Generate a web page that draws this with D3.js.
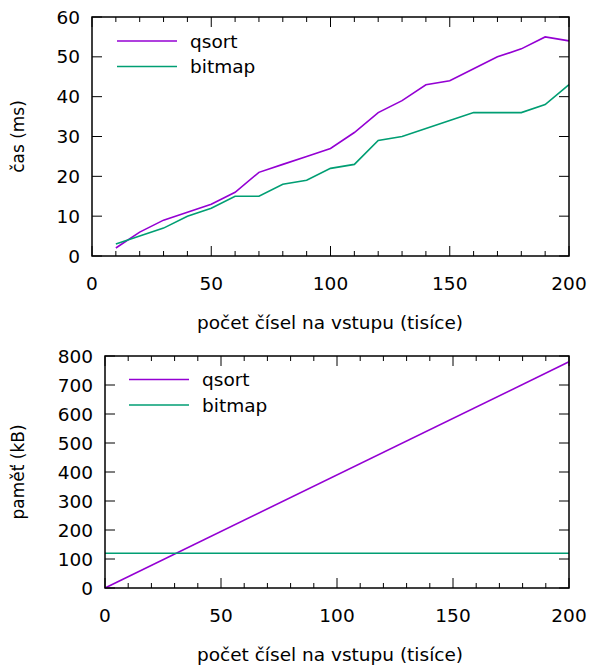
<!DOCTYPE html>
<html>
<head>
<meta charset="utf-8">
<script src="https://cdn.jsdelivr.net/npm/d3@7"></script>
<style>
  body { margin: 0; background: #fff; }
  text { font-family: "DejaVu Sans", sans-serif; fill: #000; }
</style>
</head>
<body>
<div class="chart"></div>
<script>
// data
const xs = [10, 20, 30, 40, 50, 60, 70, 80, 90, 100, 110, 120, 130, 140, 150, 160, 170, 180, 190, 200];
const qsortTime = [2, 6, 9, 11, 13, 16, 21, 23, 25, 27, 31, 36, 39, 43, 44, 47, 50, 52, 55, 54];
const bitmapTime = [3, 5, 7, 10, 12, 15, 15, 18, 19, 22, 23, 29, 30, 32, 34, 36, 36, 36, 38, 43];
const memX = [0, 200];
const qsortMem = [0, 780];
const bitmapMem = [120, 120];
const seriesNames = ['qsort', 'bitmap'];
const xLabel = 'počet čísel na vstupu (tisíce)';

const W = 593, H = 665;
const COLORS = ['#9400d3', '#009e73'];
const FS = 18.5;   // ticks, legend, x title
const FS_Y = 17;   // rotated y title

const svg = d3.select('.chart').append('svg')
  .attr('width', W).attr('height', H);

function panel(opt) {
  const x = d3.scaleLinear().domain([0, 200]).range([opt.left, opt.right]);
  const y = d3.scaleLinear().domain([0, opt.ymax]).range([opt.bottom, opt.top]);
  const g = svg.append('g');

  // minor + major x ticks, bottom and top, pointing inward
  d3.range(0, 201, 10).forEach(v => {
    const len = v % 50 === 0 ? 10 : 5;
    g.append('line').attr('x1', x(v)).attr('x2', x(v))
      .attr('y1', opt.bottom).attr('y2', opt.bottom - len)
      .attr('stroke', '#000').attr('stroke-width', 1);
    g.append('line').attr('x1', x(v)).attr('x2', x(v))
      .attr('y1', opt.top).attr('y2', opt.top + len)
      .attr('stroke', '#000').attr('stroke-width', 1);
  });
  d3.range(0, 201, 50).forEach(v => {
    g.append('text').attr('x', x(v)).attr('y', opt.bottom + 34)
      .attr('text-anchor', 'middle').attr('font-size', FS).text(v);
  });

  // y ticks on both sides
  d3.range(0, opt.ymax + 1, opt.ystep).forEach(v => {
    g.append('line').attr('x1', opt.left).attr('x2', opt.left + 10)
      .attr('y1', y(v)).attr('y2', y(v)).attr('stroke', '#000');
    g.append('line').attr('x1', opt.right).attr('x2', opt.right - 10)
      .attr('y1', y(v)).attr('y2', y(v)).attr('stroke', '#000');
    g.append('text').attr('x', opt.left - 12).attr('y', y(v))
      .attr('dy', '0.36em').attr('text-anchor', 'end')
      .attr('font-size', FS).text(v);
  });

  // lines
  const line = d3.line().x(d => x(d[0])).y(d => y(d[1]));
  opt.series.forEach((s, i) => {
    g.append('path').datum(s.x.map((v, j) => [v, s.y[j]]))
      .attr('d', line).attr('fill', 'none')
      .attr('stroke', COLORS[i]).attr('stroke-width', 1.6);
  });

  // frame
  g.append('rect').attr('x', opt.left).attr('y', opt.top)
    .attr('width', opt.right - opt.left).attr('height', opt.bottom - opt.top)
    .attr('fill', 'none').attr('stroke', '#000').attr('stroke-width', 1.5);

  // legend
  seriesNames.forEach((name, i) => {
    const ly = opt.legY + i * 25.5;
    g.append('line').attr('x1', opt.legX).attr('x2', opt.legX + 60)
      .attr('y1', ly).attr('y2', ly)
      .attr('stroke', COLORS[i]).attr('stroke-width', 1.6);
    g.append('text').attr('x', opt.legX + 73).attr('y', ly)
      .attr('dy', '0.36em').attr('font-size', FS).text(name);
  });

  // axis titles
  g.append('text').attr('x', 330).attr('y', opt.bottom + 73)
    .attr('text-anchor', 'middle').attr('font-size', FS).text(xLabel);
  g.append('text')
    .attr('transform', `translate(${opt.ylabX},${(opt.top + opt.bottom) / 2}) rotate(-90)`)
    .attr('text-anchor', 'middle').attr('font-size', FS_Y).text(opt.ylabel);
}

panel({
  left: 92, right: 569, top: 17, bottom: 256, ymax: 60, ystep: 10,
  ylabel: 'čas (ms)', ylabX: 24, legX: 117, legY: 41,
  series: [{ x: xs, y: qsortTime }, { x: xs, y: bitmapTime }]
});

panel({
  left: 105, right: 569, top: 356, bottom: 588, ymax: 800, ystep: 100,
  ylabel: 'paměť (kB)', ylabX: 24, legX: 129, legY: 379.5,
  series: [{ x: memX, y: qsortMem }, { x: memX, y: bitmapMem }]
});
</script>
</body>
</html>
